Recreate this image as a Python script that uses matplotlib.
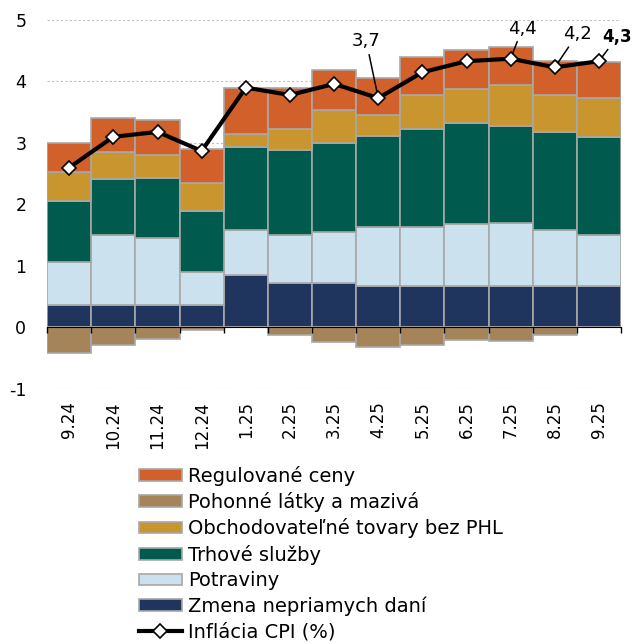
import numpy as np
import matplotlib
matplotlib.use("Agg")
from matplotlib import pyplot as plt
from matplotlib.patches import Patch
from matplotlib.lines import Line2D

plt.rcParams['font.family'] = ['DejaVu Sans']
plt.rcParams['axes.unicode_minus'] = False

# months
months = ['9.24', '10.24', '11.24', '12.24', '1.25', '2.25', '3.25',
          '4.25', '5.25', '6.25', '7.25', '8.25', '9.25']

# contributions (p.p.)
dane = [0.36, 0.36, 0.36, 0.36, 0.85, 0.73, 0.73, 0.68, 0.68, 0.68, 0.68, 0.68, 0.68]
potraviny = [0.71, 1.14, 1.09, 0.54, 0.73, 0.78, 0.83, 0.95, 0.95, 1.01, 1.02, 0.90, 0.82]
sluzby = [0.99, 0.92, 0.98, 0.99, 1.35, 1.37, 1.44, 1.48, 1.60, 1.64, 1.58, 1.60, 1.59]
tovary = [0.46, 0.44, 0.37, 0.46, 0.22, 0.34, 0.53, 0.34, 0.55, 0.54, 0.67, 0.60, 0.64]
regulovane = [0.48, 0.54, 0.57, 0.56, 0.75, 0.68, 0.65, 0.60, 0.62, 0.64, 0.61, 0.56, 0.59]
phl = [-0.42, -0.28, -0.18, -0.04, 0.0, -0.13, -0.23, -0.32, -0.28, -0.20, -0.22, -0.13, 0.0]
cpi = [2.6, 3.1, 3.18, 2.87, 3.9, 3.78, 3.96, 3.73, 4.15, 4.33, 4.37, 4.23, 4.33]

# labelled points: index -> text
cpi_labels = {7: '3,7', 10: '4,4', 11: '4,2', 12: '4,3'}

c_reg = '#D2602A'
c_phl = '#A6845A'
c_tov = '#C9952F'
c_slu = '#005B4E'
c_pot = '#CCE1EE'
c_dan = '#1F355E'
edge = '#A8A8A8'

fig = plt.figure(figsize=(6.37, 6.44), dpi=100)
ax = fig.add_axes([0.074, 0.396, 0.901, 0.573])

x = np.arange(len(months))
bottom = np.zeros(len(months))
for vals, col in [(dane, c_dan), (potraviny, c_pot), (sluzby, c_slu),
                  (tovary, c_tov), (regulovane, c_reg)]:
    ax.bar(x, vals, width=1.0, bottom=bottom, color=col, edgecolor=edge,
           linewidth=1.2, zorder=2)
    bottom += np.array(vals)
ax.bar(x, phl, width=1.0, color=c_phl, edgecolor=edge, linewidth=1.2, zorder=2)

ax.plot(x, cpi, color='black', lw=3, marker='D', ms=7, mfc='white',
        mec='black', mew=1.2, zorder=6)

# annotations with leader lines
ann = {7: (6.73, 4.65, 'normal'), 10: (10.26, 4.86, 'normal'),
       11: (11.51, 4.77, 'normal'), 12: (12.42, 4.73, 'bold')}
for i, txt in cpi_labels.items():
    tx, ty, w = ann[i]
    ax.annotate(txt, xy=(x[i], cpi[i]), xytext=(tx, ty), ha='center',
                va='center', fontsize=13 if w == 'normal' else 12,
                fontweight=w,
                arrowprops=dict(arrowstyle='-', color='black', lw=1.1,
                                shrinkA=1, shrinkB=3), zorder=5)

ax.set_xlim(-0.5, len(months) - 0.5)
ax.set_ylim(-1, 5)
ax.set_yticks(range(-1, 6))
# dotted grid behind the bars
for yv in ax.get_yticks():
    ax.axhline(yv, color='#BFBFBF', linestyle=(0, (2, 2)), lw=0.8, zorder=0.5)
ax.set_axisbelow(False)
for s in ['top', 'right', 'left']:
    ax.spines[s].set_visible(False)
ax.spines['bottom'].set_position(('data', 0))
ax.spines['bottom'].set_zorder(3)
ax.set_xticks(x)
ax.set_xticklabels(months, rotation=90, fontsize=12)
ax.set_xticks(np.arange(-0.5, len(months)), minor=True)
ax.tick_params(axis='x', which='major', length=0, pad=53)
ax.tick_params(axis='x', which='minor', length=4, direction='out', width=1)
ax.tick_params(axis='y', length=0, labelsize=12.5, pad=15)

handles = [Patch(facecolor=c_reg, edgecolor=edge, lw=1.2),
           Patch(facecolor=c_phl, edgecolor=edge, lw=1.2),
           Patch(facecolor=c_tov, edgecolor=edge, lw=1.2),
           Patch(facecolor=c_slu, edgecolor=edge, lw=1.2),
           Patch(facecolor=c_pot, edgecolor=edge, lw=1.2),
           Patch(facecolor=c_dan, edgecolor=edge, lw=1.2),
           Line2D([], [], color='black', lw=3, marker='D', ms=7, mfc='white',
                  mec='black', mew=1.2)]
labels = ['Regulované ceny', 'Pohonné látky a mazivá',
          'Obchodovateľné tovary bez PHL', 'Trhové služby', 'Potraviny',
          'Zmena nepriamych daní', 'Inflácia CPI (%)']
fig.legend(handles, labels, loc='upper left', bbox_to_anchor=(0.218, 0.277),
           frameon=False, fontsize=14, handlelength=2.2, handleheight=0.55,
           handletextpad=0.35, labelspacing=0.33, borderpad=0, borderaxespad=0)

fig.savefig('out.png', dpi=100)
